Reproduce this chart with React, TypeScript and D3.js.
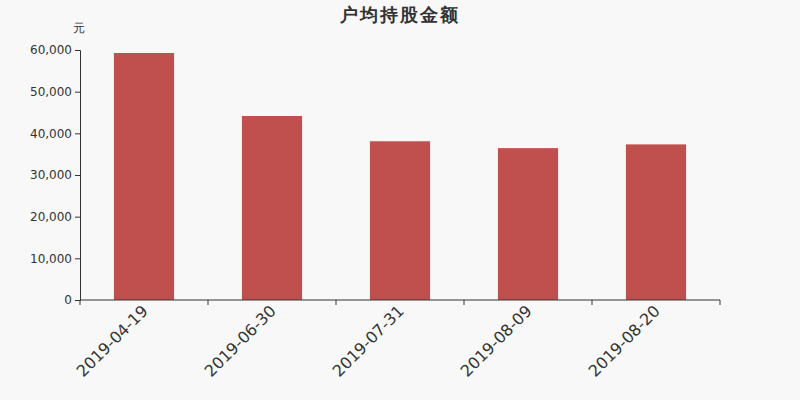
import React, { useEffect, useRef } from 'react';
import * as d3 from 'd3';

const dates = ['2019-04-19', '2019-06-30', '2019-07-31', '2019-08-09', '2019-08-20'];
const amounts = [59280, 44160, 38100, 36450, 37350];
const yTicks = [0, 10000, 20000, 30000, 40000, 50000, 60000];

const width = 800;
const height = 400;
const margin = { top: 50, right: 80, bottom: 100, left: 80 };

const App: React.FC = () => {
    const svgRef = useRef<SVGSVGElement>(null);

    useEffect(() => {
        if (!svgRef.current) return;
        const svg = d3.select(svgRef.current);
        svg.selectAll('*').remove();

        const data = dates.map((d, i) => ({ date: d, value: amounts[i] }));

        const x = d3.scaleBand<string>()
            .domain(dates)
            .range([margin.left, width - margin.right])
            .paddingInner(0.53)
            .paddingOuter(0.265);

        const band = d3.scaleBand<string>()
            .domain(dates)
            .range([margin.left, width - margin.right]);

        const y = d3.scaleLinear()
            .domain([0, 60000])
            .range([height - margin.bottom, margin.top]);

        svg.append('rect')
            .attr('width', width)
            .attr('height', height)
            .attr('fill', '#f8f8f8');

        // title
        svg.append('text')
            .attr('x', width / 2)
            .attr('y', 21)
            .attr('text-anchor', 'middle')
            .attr('font-family', 'DejaVu Sans, sans-serif')
            .attr('font-size', 18)
            .attr('letter-spacing', 2)
            .attr('font-weight', 'bold')
            .attr('fill', '#333')
            .text('户均持股金额');

        // unit
        svg.append('text')
            .attr('x', 79)
            .attr('y', 32)
            .attr('text-anchor', 'middle')
            .attr('font-family', 'DejaVu Sans, sans-serif')
            .attr('font-size', 12)
            .attr('fill', '#333')
            .text('元');

        // bars
        svg.append('g')
            .selectAll('rect')
            .data(data)
            .join('rect')
            .attr('x', d => x(d.date)!)
            .attr('y', d => y(d.value))
            .attr('width', x.bandwidth())
            .attr('height', d => y(0) - y(d.value))
            .attr('fill', '#c0504d');

        // y axis
        svg.append('g')
            .attr('transform', `translate(${margin.left},0)`)
            .call(d3.axisLeft(y).tickValues(yTicks).tickSize(5).tickPadding(3).tickFormat(d3.format(',')))
            .call(g => g.select('.domain').attr('stroke', '#333'))
            .call(g => g.selectAll('.tick line').attr('stroke', '#333'))
            .call(g => g.selectAll('.tick text')
                .attr('fill', '#333')
                .attr('font-size', 12)
                .attr('font-family', 'DejaVu Sans, sans-serif'));

        // x axis
        const xAxis = svg.append('g')
            .attr('transform', `translate(0,${y(0)})`);
        xAxis.append('line')
            .attr('x1', margin.left)
            .attr('x2', width - margin.right)
            .attr('stroke', '#333');
        const boundaries = [...dates.map(d => band(d)!), width - margin.right];
        xAxis.selectAll('line.tick')
            .data(boundaries)
            .join('line')
            .attr('class', 'tick')
            .attr('x1', d => d)
            .attr('x2', d => d)
            .attr('y1', 0)
            .attr('y2', 5)
            .attr('stroke', '#333');
        xAxis.selectAll('text')
            .data(dates)
            .join('text')
            .attr('transform', d => `translate(${band(d)! + band.bandwidth() / 2 + 5},12) rotate(-45)`)
            .attr('text-anchor', 'end')
            .attr('font-family', 'DejaVu Sans, sans-serif')
            .attr('font-size', 16)
            .attr('fill', '#333')
            .text(d => d);
    }, []);

    return (
        <svg
            ref={svgRef}
            width={width}
            height={height}
            style={{ position: 'absolute', left: 0, top: 0, display: 'block' }}
        />
    );
};

export default App;
